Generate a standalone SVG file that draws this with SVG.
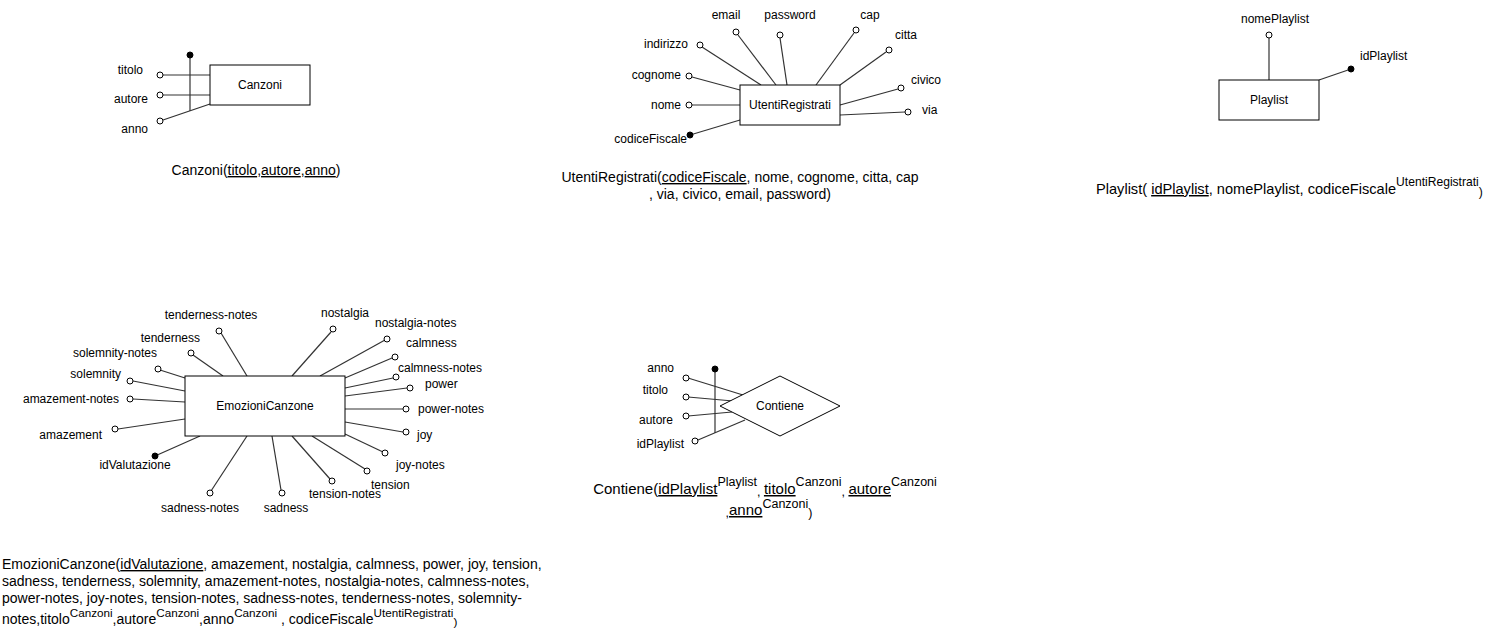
<svg xmlns="http://www.w3.org/2000/svg" width="1495" height="631" viewBox="0 0 1495 631">
<style>
.lbl{font-family:"Liberation Sans",Arial,sans-serif;font-size:12px;fill:#000}
.cap{font-family:"Liberation Sans",Arial,sans-serif;font-size:14px;fill:#000}
.ent{fill:#fff;stroke:#000;stroke-width:1}
.att{fill:#fff;stroke:#000;stroke-width:1}
.key{fill:#000;stroke:#000;stroke-width:1}
.conn line{stroke:#333;stroke-width:1.2}
.u{text-decoration:underline}
.s{font-size:11.7px}
.pl{font-size:14.6px}
.pl .s{font-size:12.1px}
.ct{font-size:15px}
.ct .s{font-size:12.5px}
</style>
<rect width="1495" height="631" fill="#fff"/>

<g id="connectors" class="conn">
  <!-- Canzoni -->
  <line x1="163" y1="75" x2="210" y2="75"/>
  <line x1="163" y1="95" x2="210" y2="95"/>
  <line x1="163" y1="120" x2="210" y2="104"/>
  <line x1="190" y1="55" x2="190" y2="111"/>
  <!-- UtentiRegistrati -->
  <line x1="702" y1="47" x2="761" y2="85"/>
  <line x1="738" y1="35" x2="776" y2="85"/>
  <line x1="780" y1="38" x2="787" y2="85"/>
  <line x1="854" y1="33" x2="816" y2="85"/>
  <line x1="886" y1="52" x2="840" y2="85"/>
  <line x1="898" y1="89" x2="840" y2="105"/>
  <line x1="905" y1="112" x2="840" y2="115"/>
  <line x1="692" y1="77" x2="740" y2="90"/>
  <line x1="692" y1="105" x2="740" y2="105"/>
  <line x1="690" y1="135" x2="740" y2="120"/>
  <!-- Playlist -->
  <line x1="1269" y1="38" x2="1269" y2="80"/>
  <line x1="1351" y1="69" x2="1319" y2="80"/>
  <!-- EmozioniCanzone -->
  <line x1="221" y1="333" x2="247" y2="376"/>
  <line x1="193" y1="355" x2="223" y2="376"/>
  <line x1="160" y1="370" x2="185" y2="378"/>
  <line x1="133" y1="381" x2="185" y2="391"/>
  <line x1="133" y1="399" x2="185" y2="402"/>
  <line x1="118" y1="429" x2="185" y2="419"/>
  <line x1="155" y1="456" x2="200" y2="436"/>
  <line x1="211" y1="491" x2="247" y2="436"/>
  <line x1="331" y1="332" x2="292" y2="376"/>
  <line x1="385" y1="340" x2="320" y2="376"/>
  <line x1="392" y1="358" x2="345" y2="378"/>
  <line x1="393" y1="378" x2="345" y2="388"/>
  <line x1="407" y1="388" x2="345" y2="396"/>
  <line x1="403" y1="409" x2="345" y2="409"/>
  <line x1="403" y1="432" x2="345" y2="422"/>
  <line x1="383" y1="452" x2="345" y2="434"/>
  <line x1="365" y1="469" x2="312" y2="436"/>
  <line x1="330" y1="479" x2="292" y2="436"/>
  <line x1="281" y1="490" x2="272" y2="436"/>
  <!-- Contiene -->
  <line x1="688" y1="378" x2="743" y2="395"/>
  <line x1="688" y1="397" x2="733" y2="401"/>
  <line x1="688" y1="416" x2="732" y2="412"/>
  <line x1="698" y1="440" x2="745" y2="420"/>
  <line x1="715" y1="369" x2="715" y2="433"/>
</g>

<g id="node-canzoni">
  <rect class="ent" x="210" y="65" width="100" height="40"/>
  <text class="lbl" x="260" y="89" text-anchor="middle">Canzoni</text>
</g>
<g id="attr-canzoni-titolo"><circle class="att" cx="160" cy="75" r="3"/><text class="lbl" x="143" y="74" text-anchor="end">titolo</text></g>
<g id="attr-canzoni-autore"><circle class="att" cx="160" cy="95" r="3"/><text class="lbl" x="148" y="103" text-anchor="end">autore</text></g>
<g id="attr-canzoni-anno"><circle class="att" cx="160" cy="121" r="3"/><text class="lbl" x="148" y="133" text-anchor="end">anno</text></g>
<g id="key-canzoni"><circle class="key" cx="190" cy="55" r="3"/></g>
<g id="caption-canzoni">
  <text class="cap" x="256" y="175" text-anchor="middle">Canzoni(<tspan class="u">titolo</tspan>,<tspan class="u">autore</tspan>,<tspan class="u">anno</tspan>)</text>
</g>

<g id="node-utentiregistrati">
  <rect class="ent" x="740" y="85" width="100" height="40"/>
  <text class="lbl" x="790" y="109" text-anchor="middle">UtentiRegistrati</text>
</g>
<g id="attr-email"><circle class="att" cx="736" cy="32" r="3"/><text class="lbl" x="726" y="19" text-anchor="middle">email</text></g>
<g id="attr-password"><circle class="att" cx="780" cy="35" r="3"/><text class="lbl" x="790" y="19" text-anchor="middle">password</text></g>
<g id="attr-cap"><circle class="att" cx="856" cy="30" r="3"/><text class="lbl" x="870" y="19" text-anchor="middle">cap</text></g>
<g id="attr-citta"><circle class="att" cx="889" cy="50" r="3"/><text class="lbl" x="895" y="39">citta</text></g>
<g id="attr-indirizzo"><circle class="att" cx="700" cy="45" r="3"/><text class="lbl" x="688" y="48" text-anchor="end">indirizzo</text></g>
<g id="attr-cognome"><circle class="att" cx="689" cy="76" r="3"/><text class="lbl" x="681" y="79" text-anchor="end">cognome</text></g>
<g id="attr-nome"><circle class="att" cx="689" cy="105" r="3"/><text class="lbl" x="681" y="109" text-anchor="end">nome</text></g>
<g id="attr-codicefiscale"><circle class="key" cx="690" cy="135" r="3"/><text class="lbl" x="687" y="143" text-anchor="end">codiceFiscale</text></g>
<g id="attr-civico"><circle class="att" cx="901" cy="88" r="3"/><text class="lbl" x="911" y="84">civico</text></g>
<g id="attr-via"><circle class="att" cx="908" cy="112" r="3"/><text class="lbl" x="922" y="114">via</text></g>
<g id="caption-utentiregistrati">
  <text class="cap" x="740" y="182" text-anchor="middle">UtentiRegistrati(<tspan class="u">codiceFiscale</tspan>, nome, cognome, citta, cap</text>
  <text class="cap" x="740" y="199" text-anchor="middle">, via, civico, email, password)</text>
</g>

<g id="node-playlist">
  <rect class="ent" x="1219" y="80" width="100" height="40"/>
  <text class="lbl" x="1269" y="104" text-anchor="middle">Playlist</text>
</g>
<g id="attr-nomeplaylist"><circle class="att" cx="1269" cy="35" r="3"/><text class="lbl" x="1275" y="23" text-anchor="middle">nomePlaylist</text></g>
<g id="attr-idplaylist"><circle class="key" cx="1351" cy="69" r="3"/><text class="lbl" x="1360" y="60">idPlaylist</text></g>
<g id="caption-playlist">
  <text class="cap pl" x="1096" y="194">Playlist( <tspan class="u">idPlaylist</tspan>, nomePlaylist, codiceFiscale<tspan class="s" dy="-8.5">UtentiRegistrati</tspan><tspan class="s" dy="10.5">)</tspan></text>
</g>

<g id="node-emozionicanzone">
  <rect class="ent" x="185" y="376" width="160" height="60"/>
  <text class="lbl" x="265" y="410" text-anchor="middle">EmozioniCanzone</text>
</g>
<g id="attr-tenderness-notes"><circle class="att" cx="219" cy="331" r="3"/><text class="lbl" x="211" y="319" text-anchor="middle">tenderness-notes</text></g>
<g id="attr-tenderness"><circle class="att" cx="191" cy="353" r="3"/><text class="lbl" x="200" y="342" text-anchor="end">tenderness</text></g>
<g id="attr-solemnity-notes"><circle class="att" cx="158" cy="369" r="3"/><text class="lbl" x="157" y="357" text-anchor="end">solemnity-notes</text></g>
<g id="attr-solemnity"><circle class="att" cx="130" cy="381" r="3"/><text class="lbl" x="121" y="378" text-anchor="end">solemnity</text></g>
<g id="attr-amazement-notes"><circle class="att" cx="130" cy="399" r="3"/><text class="lbl" x="119" y="403" text-anchor="end">amazement-notes</text></g>
<g id="attr-amazement"><circle class="att" cx="115" cy="429" r="3"/><text class="lbl" x="102" y="439" text-anchor="end">amazement</text></g>
<g id="attr-idvalutazione"><circle class="key" cx="155" cy="456" r="3"/><text class="lbl" x="135" y="469" text-anchor="middle">idValutazione</text></g>
<g id="attr-sadness-notes"><circle class="att" cx="210" cy="493" r="3"/><text class="lbl" x="200" y="512" text-anchor="middle">sadness-notes</text></g>
<g id="attr-nostalgia"><circle class="att" cx="333" cy="329" r="3"/><text class="lbl" x="345" y="317" text-anchor="middle">nostalgia</text></g>
<g id="attr-nostalgia-notes"><circle class="att" cx="387" cy="339" r="3"/><text class="lbl" x="375" y="327">nostalgia-notes</text></g>
<g id="attr-calmness"><circle class="att" cx="395" cy="357" r="3"/><text class="lbl" x="406" y="347">calmness</text></g>
<g id="attr-calmness-notes"><circle class="att" cx="396" cy="377" r="3"/><text class="lbl" x="398" y="372">calmness-notes</text></g>
<g id="attr-power"><circle class="att" cx="410" cy="388" r="3"/><text class="lbl" x="425" y="388">power</text></g>
<g id="attr-power-notes"><circle class="att" cx="406" cy="409" r="3"/><text class="lbl" x="418" y="413">power-notes</text></g>
<g id="attr-joy"><circle class="att" cx="406" cy="432" r="3"/><text class="lbl" x="417" y="439">joy</text></g>
<g id="attr-joy-notes"><circle class="att" cx="385" cy="453" r="3"/><text class="lbl" x="396" y="469">joy-notes</text></g>
<g id="attr-tension"><circle class="att" cx="367" cy="471" r="3"/><text class="lbl" x="371" y="489">tension</text></g>
<g id="attr-tension-notes"><circle class="att" cx="332" cy="481" r="3"/><text class="lbl" x="309" y="498">tension-notes</text></g>
<g id="attr-sadness"><circle class="att" cx="282" cy="493" r="3"/><text class="lbl" x="286" y="512" text-anchor="middle">sadness</text></g>
<g id="caption-emozionicanzone">
  <text class="cap" x="2" y="569">EmozioniCanzone(<tspan class="u">idValutazione</tspan>, amazement, nostalgia, calmness, power, joy, tension,</text>
  <text class="cap" x="2" y="586">sadness, tenderness, solemnity, amazement-notes, nostalgia-notes, calmness-notes,</text>
  <text class="cap" x="2" y="603">power-notes, joy-notes, tension-notes, sadness-notes, tenderness-notes, solemnity-</text>
  <text class="cap" x="2" y="624">notes,titolo<tspan class="s" dy="-7.5">Canzoni</tspan><tspan dy="7.5">,autore</tspan><tspan class="s" dy="-7.5">Canzoni</tspan><tspan dy="7.5">,anno</tspan><tspan class="s" dy="-7.5">Canzoni</tspan><tspan dy="7.5"> , codiceFiscale</tspan><tspan class="s" dy="-7.5">UtentiRegistrati</tspan><tspan class="s" dy="9">)</tspan></text>
</g>

<g id="node-contiene">
  <polygon class="ent" points="720,406 780,376 840,406 780,436"/>
  <text class="lbl" x="780" y="410" text-anchor="middle">Contiene</text>
</g>
<g id="attr-contiene-anno"><circle class="att" cx="686" cy="378" r="3"/><text class="lbl" x="674" y="372" text-anchor="end">anno</text></g>
<g id="attr-contiene-titolo"><circle class="att" cx="686" cy="397" r="3"/><text class="lbl" x="668" y="394" text-anchor="end">titolo</text></g>
<g id="attr-contiene-autore"><circle class="att" cx="686" cy="416" r="3"/><text class="lbl" x="673" y="424" text-anchor="end">autore</text></g>
<g id="attr-contiene-idplaylist"><circle class="att" cx="695" cy="441" r="3"/><text class="lbl" x="684" y="448" text-anchor="end">idPlaylist</text></g>
<g id="key-contiene"><circle class="key" cx="715" cy="369" r="3"/></g>
<g id="caption-contiene">
  <text class="cap ct" x="765" y="494" text-anchor="middle">Contiene(<tspan class="u">idPlaylist</tspan><tspan class="s" dy="-8.5">Playlist</tspan><tspan class="s" dy="10.5">, </tspan><tspan class="u" dy="-2">titolo</tspan><tspan class="s" dy="-8.5">Canzoni</tspan><tspan class="s" dy="10.5">, </tspan><tspan class="u" dy="-2">autore</tspan><tspan class="s" dy="-8.5">Canzoni</tspan></text>
  <text class="cap ct" x="769" y="515" text-anchor="middle"><tspan class="s" dy="2">,</tspan><tspan class="u" dy="-2">anno</tspan><tspan class="s" dy="-7">Canzoni</tspan><tspan class="s" dy="9">)</tspan></text>
</g>
</svg>
